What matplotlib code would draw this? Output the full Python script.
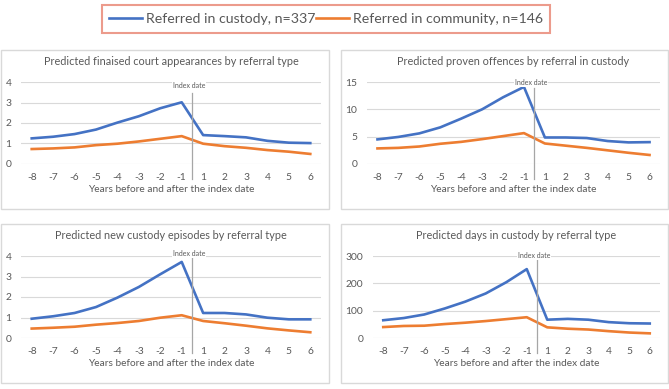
import matplotlib.pyplot as plt
from matplotlib.patches import Rectangle
from matplotlib.lines import Line2D
import matplotlib.transforms as mtransforms

plt.rcParams['font.family'] = ['Lato', 'DejaVu Sans']

# data
years = ['-8', '-7', '-6', '-5', '-4', '-3', '-2', '-1', '1', '2', '3', '4', '5', '6']

court_custody = [1.25, 1.33, 1.46, 1.68, 2.02, 2.33, 2.72, 3.01, 1.41, 1.36, 1.30, 1.13, 1.04, 1.02]
court_community = [0.73, 0.76, 0.81, 0.92, 0.99, 1.10, 1.23, 1.36, 0.99, 0.87, 0.79, 0.68, 0.60, 0.49]

offences_custody = [4.5, 4.95, 5.6, 6.7, 8.3, 10.0, 12.2, 14.1, 4.85, 4.85, 4.75, 4.2, 3.95, 4.0]
offences_community = [2.85, 2.95, 3.2, 3.7, 4.05, 4.55, 5.1, 5.65, 3.75, 3.35, 2.95, 2.5, 2.05, 1.65]

episodes_custody = [0.94, 1.06, 1.22, 1.51, 1.97, 2.49, 3.11, 3.71, 1.22, 1.22, 1.15, 0.99, 0.91, 0.91]
episodes_community = [0.46, 0.50, 0.55, 0.65, 0.73, 0.83, 0.99, 1.11, 0.83, 0.72, 0.60, 0.47, 0.37, 0.28]

days_custody = [65, 73, 86, 108, 133, 163, 204, 252, 67, 70, 67, 58, 54, 53]
days_community = [40, 44, 45, 51, 56, 62, 69, 76, 39, 34, 31, 25, 20, 17]

titles = ['Predicted finaised court appearances by referral type',
          'Predicted proven offences by referral in custody',
          'Predicted new custody episodes by referral type',
          'Predicted days in custody by referral type']
series_labels = ['Referred in custody, n=337', 'Referred in community, n=146']
xlabel = 'Years before and after the index date'

BLUE = '#4472C4'
ORANGE = '#ED7D31'
GREY = '#595959'
GRID = '#D9D9D9'

W, H = 669, 389
fig = plt.figure(figsize=(W / 100, H / 100), dpi=100)


def px_rect(x0, y0, x1, y1):
    # pixel box (top-left origin) -> figure fraction
    return [x0 / W, 1 - y1 / H, (x1 - x0) / W, (y1 - y0) / H]


# panel frames
for x0, y0, x1, y1 in [(1, 50, 329, 209), (341, 50, 668, 209),
                       (1, 224, 329, 383), (341, 224, 668, 383)]:
    fig.patches.append(Rectangle((x0 / W, 1 - y1 / H), (x1 - x0) / W, (y1 - y0) / H,
                                 transform=fig.transFigure, fill=False,
                                 edgecolor=GRID, linewidth=1))

panels = [
    (px_rect(21, 82, 321, 164), court_custody, court_community, [0, 1, 2, 3, 4], 0.87, 0.96),
    (px_rect(367, 82, 660, 164), offences_custody, offences_community, [0, 5, 10, 15], 0.93, 0.99),
    (px_rect(21, 256, 321, 338), episodes_custody, episodes_community, [0, 1, 2, 3, 4], 0.99, 1.03),
    (px_rect(373, 256, 660, 338), days_custody, days_community, [0, 100, 200, 300], 0.95, 1.00),
]

x = list(range(len(years)))
for i, (rect, cust, comm, yt, ltop, ttop) in enumerate(panels):
    ax = fig.add_axes(rect)
    ax.plot(x, cust, color=BLUE, lw=1.9, solid_joinstyle='round')
    ax.plot(x, comm, color=ORANGE, lw=1.9, solid_joinstyle='round')
    ax.set_xlim(-0.5, len(years) - 0.5)
    ax.set_ylim(yt[0], yt[-1])
    ax.set_yticks(yt)
    ax.set_xticks(x)
    ax.set_xticklabels(years)
    ax.grid(axis='y', color=GRID, lw=0.8)
    ax.set_axisbelow(True)
    for s in ax.spines.values():
        s.set_visible(False)
    ax.tick_params(length=0, labelsize=7.4, labelcolor=GREY)
    ax.tick_params(axis='y', pad=7)
    ax.tick_params(axis='x', pad=6.5)
    ax.set_title(titles[i], fontsize=7.8, color=GREY, pad=12)
    ax.set_xlabel(xlabel, fontsize=7.3, color=GREY, labelpad=2.5)
    trans = mtransforms.blended_transform_factory(ax.transData, ax.transAxes)
    ax.add_line(Line2D([7.5, 7.5], [-0.18, ltop], transform=trans, color='#A6A6A6',
                       lw=0.9, clip_on=False))
    ax.text(7.35, ttop, 'Index date', transform=trans, fontsize=5, color=GREY,
            ha='center', va='center', clip_on=False,
            bbox=dict(facecolor='white', edgecolor='none', pad=0.5))

handles = [Line2D([], [], color=BLUE, lw=1.9), Line2D([], [], color=ORANGE, lw=1.9)]
leg = fig.legend(handles, series_labels, loc='center', bbox_to_anchor=(326 / W, 1 - 19 / H),
                 ncol=2, fontsize=10.2, frameon=True, fancybox=False, handlelength=2.3,
                 handletextpad=0.25, columnspacing=0.1, borderpad=0.55)
leg.get_frame().set_edgecolor('#E8826F')
leg.get_frame().set_linewidth(1.5)
for t in leg.get_texts():
    t.set_color(GREY)

fig.savefig('out.png', dpi=100)
